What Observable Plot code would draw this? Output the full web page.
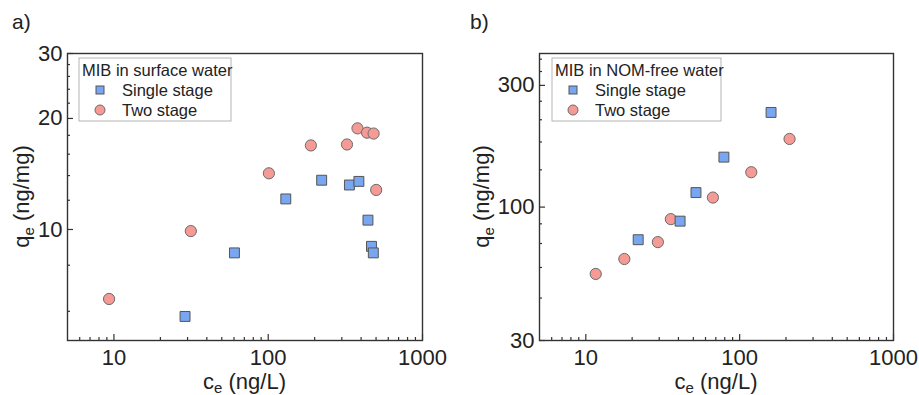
<!DOCTYPE html>
<html><head><meta charset="utf-8">
<script src="https://cdn.jsdelivr.net/npm/d3@7"></script>
<script src="https://cdn.jsdelivr.net/npm/@observablehq/plot@0.6"></script>
<style>
body{margin:0;background:#fff;}
#wrap{display:flex;width:919px;height:395px;overflow:hidden;}
svg{font-family:"Liberation Sans",Arial,sans-serif;}
</style></head><body><div id="wrap"></div>
<script>
// ---- Panel a: MIB in surface water ----
const surfaceSingleCe = [28.9, 60.4, 130, 222, 336, 387, 443, 467, 480];
const surfaceSingleQe = [5.81, 8.64, 12.1, 13.6, 13.2, 13.5, 10.6, 9.0, 8.64];
const surfaceTwoCe = [9.3, 31.5, 101, 189, 324, 379, 437, 482, 501];
const surfaceTwoQe = [6.48, 9.9, 14.2, 16.9, 17.0, 18.8, 18.3, 18.2, 12.8];
// ---- Panel b: MIB in NOM-free water ----
const nomSingleCe = [21.9, 41, 52, 79, 160];
const nomSingleQe = [74.5, 88.1, 114, 157, 235];
const nomTwoCe = [11.6, 17.8, 29.4, 35.7, 67, 119, 211];
const nomTwoQe = [54.7, 62.6, 72.9, 89.7, 109, 137, 185];

// ---- Ticks ----
const xMajor = [10, 100, 1000];
const xMinor = [6, 7, 8, 9, 20, 30, 40, 50, 60, 70, 80, 90, 200, 300, 400, 500, 600, 700, 800, 900];
const aYMajor = [10, 20, 30];
const aYMinor = [6, 8, 12, 14, 16, 18, 22, 24, 26, 28];
const bYMajor = [30, 100, 300];
const bYMinor = [44, 58, 72, 86, 140, 180, 220, 260, 340, 380];

const seriesNames = ["Single stage", "Two stage"];
const colSingle = "#78a6f0";
const colTwo = "#f69a95";
const ink = "#222";

function toRows(xs, ys) { return xs.map((x, i) => ({ce: x, qe: ys[i]})); }

function panel(cfg) {
  const xmin = cfg.xDomain[0], ymin = cfg.yDomain[0];
  const svg = Plot.plot({
    width: cfg.width, height: 395,
    marginLeft: cfg.ml, marginRight: cfg.mr, marginTop: 53, marginBottom: 55,
    style: {fontFamily: '"Liberation Sans", Arial, sans-serif', color: ink, background: "#fff"},
    x: {type: "log", domain: cfg.xDomain, axis: null},
    y: {type: "log", domain: cfg.yDomain, axis: null},
    marks: [
      Plot.ruleX(xMinor, {x: d => d, y1: ymin, y2: ymin, insetTop: -3, stroke: "#333", strokeWidth: 1.2}),
      Plot.ruleX(xMajor, {x: d => d, y1: ymin, y2: ymin, insetTop: -6, stroke: "#333", strokeWidth: 1.2}),
      Plot.ruleY(cfg.yMinor, {y: d => d, x1: xmin, x2: xmin, insetRight: -3, stroke: "#333", strokeWidth: 1.2}),
      Plot.ruleY(cfg.yMajor, {y: d => d, x1: xmin, x2: xmin, insetRight: -6, stroke: "#333", strokeWidth: 1.2}),
      Plot.text(xMajor, {x: d => d, y: ymin, text: d => String(d), dy: 17, fontSize: 22, fill: ink}),
      Plot.text(cfg.yMajor, {x: xmin, y: d => d, text: d => String(d), dx: -5, textAnchor: "end", fontSize: 22, fill: ink}),
      Plot.dot(cfg.two, {x: "ce", y: "qe", r: 5.6, symbol: "circle", fill: colTwo, stroke: "#6b6b6b", strokeWidth: 1}),
      Plot.dot(cfg.single, {x: "ce", y: "qe", r: 5.6, symbol: "square", fill: colSingle, stroke: "#555", strokeWidth: 1}),
      Plot.frame({stroke: "#333", strokeWidth: 1.4})
    ]
  });
  const s = d3.select(svg);
  const cx = (cfg.ml + cfg.width - cfg.mr) / 2;
  // panel letter
  s.append("text").attr("x", cfg.letterX).attr("y", 29).attr("text-anchor", "start").attr("font-size", 21).attr("fill", ink).text(cfg.letter);
  // x title
  const xt = s.append("text").attr("x", cx).attr("y", 389).attr("text-anchor", "middle").attr("font-size", 22).attr("fill", ink);
  xt.append("tspan").text("c");
  xt.append("tspan").attr("font-size", 15).attr("dy", 4).text("e");
  xt.append("tspan").attr("dy", -4).text(" (ng/L)");
  // y title
  const yt = s.append("text").attr("transform", `translate(29,196.5) rotate(-90)`).attr("text-anchor", "middle").attr("font-size", 22).attr("fill", ink);
  yt.append("tspan").text("q");
  yt.append("tspan").attr("font-size", 15).attr("dy", 5).text("e");
  yt.append("tspan").attr("dy", -5).text(" (ng/mg)");
  // legend
  const g = s.append("g").attr("transform", `translate(${cfg.legX},58)`).attr("text-anchor", "start");
  g.append("rect").attr("width", cfg.legW).attr("height", 63).attr("fill", "#fff").attr("stroke", "#b5b5b5").attr("stroke-width", 1);
  g.append("text").attr("x", 3).attr("y", 76 - 58).attr("font-size", 16.5).attr("fill", ink).text(cfg.legTitle);
  g.append("rect").attr("x", 21 - 4).attr("y", 32 - 4).attr("width", 8).attr("height", 8).attr("fill", colSingle).attr("stroke", "#555");
  g.append("circle").attr("cx", 21).attr("cy", 52).attr("r", 5).attr("fill", colTwo).attr("stroke", "#6b6b6b");
  g.append("text").attr("x", 43).attr("y", 96 - 58).attr("font-size", 16.5).attr("fill", ink).text(seriesNames[0]);
  g.append("text").attr("x", 43).attr("y", 116 - 58).attr("font-size", 16.5).attr("fill", ink).text(seriesNames[1]);
  return svg;
}

const wrap = document.getElementById("wrap");
wrap.appendChild(panel({
  width: 460, ml: 67, mr: 38, xDomain: [5, 1000], yDomain: [5, 30],
  yMajor: aYMajor, yMinor: aYMinor,
  single: toRows(surfaceSingleCe, surfaceSingleQe), two: toRows(surfaceTwoCe, surfaceTwoQe),
  letter: "a)", letterX: 12, legX: 79, legW: 152, legTitle: "MIB in surface water"
}));
wrap.appendChild(panel({
  width: 459, ml: 79, mr: 26, xDomain: [5, 1000], yDomain: [30, 400],
  yMajor: bYMajor, yMinor: bYMinor,
  single: toRows(nomSingleCe, nomSingleQe), two: toRows(nomTwoCe, nomTwoQe),
  letter: "b)", letterX: 10, legX: 92, legW: 169, legTitle: "MIB in NOM-free water"
}));
</script></body></html>
